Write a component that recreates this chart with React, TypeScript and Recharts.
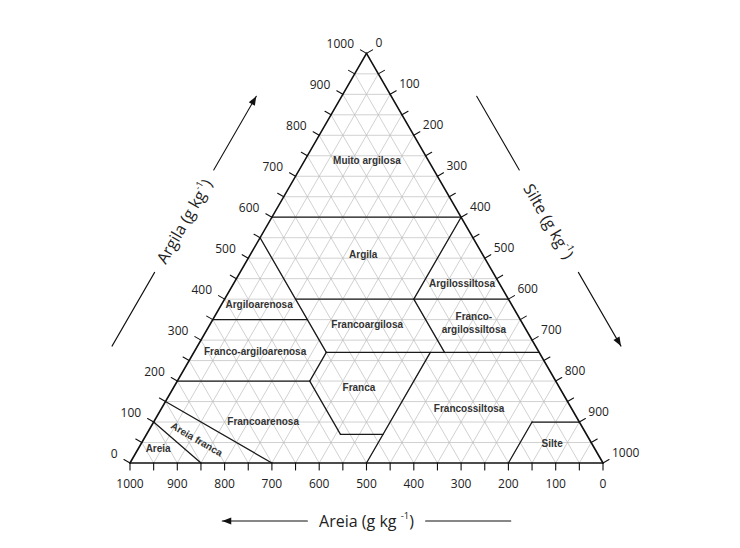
import React from "react";
import { ScatterChart, Scatter, XAxis, YAxis, ReferenceLine } from "recharts";

const WIDTH = 740;
const HEIGHT = 548;
const PX = 0.473; // pixels per unit, triangle base = 1000 units
const ORIGIN_X = 130;
const ORIGIN_Y = 463;

// g/kg values along the three sides
const MAJOR_TICKS = [0, 100, 200, 300, 400, 500, 600, 700, 800, 900, 1000];
const MINOR_TICKS = [50, 150, 250, 350, 450, 550, 650, 750, 850, 950];
const GRID_LEVELS = [50, 100, 150, 200, 250, 300, 350, 400, 450, 500, 550, 600, 650, 700, 750, 800, 850, 900, 950];

// texture classes, label placed at clay / silt (g/kg)
const CLASS_NAMES = [
  "Muito argilosa",
  "Argila",
  "Argilossiltosa",
  "Argiloarenosa",
  "Francoargilosa",
  "Franco-\nargilossiltosa",
  "Franco-argiloarenosa",
  "Franca",
  "Francossiltosa",
  "Francoarenosa",
  "Silte",
  "Areia",
  "Areia franca",
];
const CLASS_CLAY = [740, 510, 440, 388, 339, 344, 273, 186, 134, 103, 49, 37, 59];
const CLASS_SILT = [131, 238, 482, 79, 332, 555, 128, 391, 650, 230, 868, 41, 112];
const CLASS_ANGLE = [0, 0, 0, 0, 0, 0, 0, 0, 0, 0, 0, 0, 30];

// class boundaries, polylines of [clay, silt]
const BOUNDARIES = [
  [[600, 0], [600, 400]],
  [[550, 0], [270, 280]],
  [[350, 0], [350, 200]],
  [[400, 150], [400, 600]],
  [[600, 400], [400, 400], [270, 530]],
  [[200, 0], [200, 280], [270, 280]],
  [[270, 280], [270, 730]],
  [[200, 280], [70, 410], [70, 500]],
  [[270, 500], [0, 500]],
  [[0, 800], [100, 800], [100, 900]],
  [[150, 0], [0, 300]],
  [[100, 0], [0, 150]],
];

const AXIS_TITLES = ["Argila", "Silte", "Areia"];
const ARROW_SPAN = [195, 375, 625, 805];

const SQ3 = Math.sqrt(3) / 2;
const toXY = (clay: number, silt: number) => ({ x: silt + clay / 2, y: clay * SQ3 });

type Side = {
  edge: (v: number) => { x: number; y: number };
  n: [number, number];
  off: number;
  rot: number;
  dx: number;
  dy: number;
  anchor: string;
  space: string;
};

const SIDES: Side[] = [
  { edge: (v) => toXY(v, 0), n: [-SQ3, 0.5], off: 74, rot: -60, dx: -12.5, dy: -9.5, anchor: "end", space: "" },
  { edge: (v) => toXY(1000 - v, v), n: [SQ3, 0.5], off: 74, rot: 60, dx: 9, dy: -10.5, anchor: "start", space: "" },
  { edge: (v) => toXY(0, 1000 - v), n: [0, -1], off: 58, rot: 0, dx: 0, dy: 20, anchor: "middle", space: " " },
];

const TICK_LEN = 7 / PX;
const ALL_TICKS = [...MAJOR_TICKS, ...MINOR_TICKS];

const shift = (p: { x: number; y: number }, n: [number, number], d: number) => ({
  x: p.x + n[0] * d,
  y: p.y + n[1] * d,
});

const GRID = GRID_LEVELS.flatMap((L) => [
  [toXY(L, 0), toXY(L, 1000 - L)],
  [toXY(0, L), toXY(1000 - L, L)],
  [toXY(0, 1000 - L), toXY(1000 - L, 0)],
]);

const OUTLINE = [
  [toXY(0, 0), toXY(1000, 0)],
  [toXY(1000, 0), toXY(0, 1000)],
  [toXY(0, 1000), toXY(0, 0)],
];

const BOUNDARY_SEGS = BOUNDARIES.flatMap((line) =>
  line.slice(1).map((pt, i) => [toXY(line[i][0], line[i][1]), toXY(pt[0], pt[1])])
);

const TICK_SEGS = SIDES.flatMap((s) =>
  ALL_TICKS.map((v) => [s.edge(v), shift(s.edge(v), s.n, TICK_LEN)])
);

const ARROW_SEGS = SIDES.flatMap((s) => {
  const d = s.off / PX;
  const p = ARROW_SPAN.map((v) => shift(s.edge(v), s.n, d));
  return [
    [p[0], p[1]],
    [p[2], p[3]],
  ];
});

const ARROW_HEADS = SIDES.map((s) => {
  const d = s.off / PX;
  const tip = shift(s.edge(ARROW_SPAN[3]), s.n, d);
  const prev = shift(s.edge(ARROW_SPAN[2]), s.n, d);
  const angle = (Math.atan2(-(tip.y - prev.y), tip.x - prev.x) * 180) / Math.PI;
  return { ...tip, angle };
});

const TITLES = SIDES.map((s, i) => ({
  ...shift(s.edge(500), s.n, s.off / PX),
  name: AXIS_TITLES[i],
  rot: s.rot,
  space: s.space,
}));

const TICK_LABELS = SIDES.map((s) =>
  MAJOR_TICKS.map((v) => ({ ...s.edge(v), label: String(v) }))
);

const CLASS_LABELS = CLASS_NAMES.map((name, i) => ({
  ...toXY(CLASS_CLAY[i], CLASS_SILT[i]),
  name,
  angle: CLASS_ANGLE[i],
}));

const seg = (s: { x: number; y: number }[], key: string, stroke: string, width: number) => (
  <ReferenceLine
    key={key}
    segment={[s[0], s[1]]}
    stroke={stroke}
    strokeWidth={width}
    strokeLinecap="round"
    ifOverflow="visible"
  />
);

const classShape = (p: any) => {
  const lines = p.payload.name.split("\n");
  return (
    <text
      x={p.cx}
      y={p.cy}
      textAnchor="middle"
      dominantBaseline="central"
      fontFamily="'Liberation Sans', Arial, sans-serif"
      fontWeight="bold"
      fontSize={10}
      fill="#333"
      transform={`rotate(${p.payload.angle} ${p.cx} ${p.cy})`}
    >
      {lines.map((t: string, k: number) => (
        <tspan key={k} x={p.cx} dy={k === 0 ? -(lines.length - 1) * 6.5 : 13}>
          {t}
        </tspan>
      ))}
    </text>
  );
};

const tickShape = (s: Side) => (p: any) => (
  <text
    x={p.cx + s.dx}
    y={p.cy + s.dy}
    textAnchor={s.anchor}
    dominantBaseline="central"
    fontFamily="'Open Sans', sans-serif"
    fontSize={12}
    fill="#222"
  >
    {p.payload.label}
  </text>
);

const titleShape = (p: any) => (
  <text
    x={p.cx}
    y={p.cy}
    textAnchor="middle"
    dominantBaseline="central"
    fontFamily="'Open Sans', sans-serif"
    fontSize={16}
    fill="#222"
    transform={`rotate(${p.payload.rot} ${p.cx} ${p.cy})`}
  >
    {`${p.payload.name} (g kg${p.payload.space}`}
    <tspan dy={-6} fontSize={9.5}>
      -1
    </tspan>
    <tspan dy={6}>)</tspan>
  </text>
);

const headShape = (p: any) => (
  <polygon
    points="0,0 -9,-3.5 -9,3.5"
    fill="#111"
    transform={`translate(${p.cx},${p.cy}) rotate(${p.payload.angle})`}
  />
);

export default function App() {
  return (
    <div style={{ position: "absolute", left: 0, top: 0, background: "#fff" }}>
      <ScatterChart width={WIDTH} height={HEIGHT} margin={{ top: 0, right: 0, bottom: 0, left: 0 }}>
        <XAxis
          type="number"
          dataKey="x"
          domain={[-ORIGIN_X / PX, (WIDTH - ORIGIN_X) / PX]}
          hide
        />
        <YAxis
          type="number"
          dataKey="y"
          domain={[-(HEIGHT - ORIGIN_Y) / PX, ORIGIN_Y / PX]}
          hide
        />
        {GRID.map((s, i) => seg(s, `g${i}`, "#bdbdbd", 0.7))}
        {BOUNDARY_SEGS.map((s, i) => seg(s, `b${i}`, "#1a1a1a", 1.3))}
        {OUTLINE.map((s, i) => seg(s, `o${i}`, "#111", 1.6))}
        {TICK_SEGS.map((s, i) => seg(s, `t${i}`, "#111", 1.1))}
        {ARROW_SEGS.map((s, i) => seg(s, `a${i}`, "#111", 1.1))}
        <Scatter data={ARROW_HEADS} shape={headShape} isAnimationActive={false} />
        <Scatter data={CLASS_LABELS} shape={classShape} isAnimationActive={false} />
        <Scatter data={TITLES} shape={titleShape} isAnimationActive={false} />
        {SIDES.map((s, i) => (
          <Scatter key={`l${i}`} data={TICK_LABELS[i]} shape={tickShape(s)} isAnimationActive={false} />
        ))}
      </ScatterChart>
    </div>
  );
}
